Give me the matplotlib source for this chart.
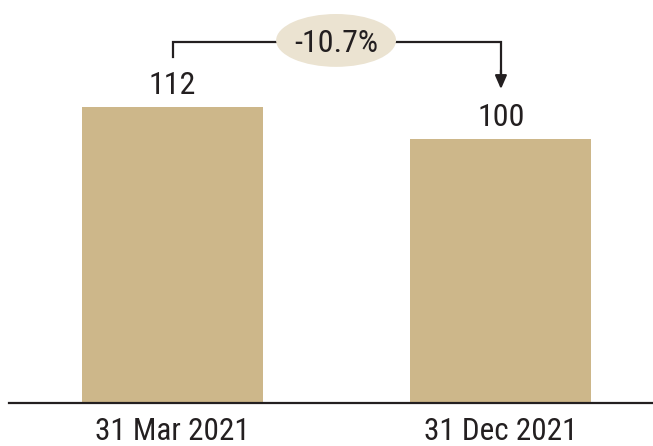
import matplotlib
matplotlib.use("Agg")
import matplotlib.pyplot as plt
import matplotlib.transforms as mtransforms
from matplotlib.patches import Ellipse

# data
categories = ["31 Mar 2021", "31 Dec 2021"]
values = [112, 100]
change_label = "-10.7%"

BAR_COLOR = "#cdb78a"
PILL_COLOR = "#ebe3d1"
TEXT_COLOR = "#231f20"

plt.rcParams["font.family"] = ["Roboto Condensed", "Barlow Condensed", "DejaVu Sans"]

fig = plt.figure(figsize=(6.53, 4.46), dpi=100)
ax = fig.add_axes([9 / 653, 43 / 446, 1 - 9 / 653, 403 / 446])

x = list(range(len(categories)))
ax.bar(x, values, width=0.551, color=BAR_COLOR, zorder=2)

ax.set_xlim(-0.498, 1.463)
ax.set_ylim(0, 152.5)

# value labels
for xi, v in zip(x, values):
    ax.text(xi, v + 5, str(v), ha="center", va="baseline",
            fontsize=23, color=TEXT_COLOR)

# bracket with arrow
y_top = 136.6
ax.plot([x[0], x[0], x[1], x[1]], [130.9, y_top, y_top, 124],
        color=TEXT_COLOR, lw=1.6, solid_joinstyle="miter", zorder=3)
ax.annotate("", xy=(x[1], 118.8), xytext=(x[1], 126),
            arrowprops=dict(arrowstyle="-|>,head_width=0.35,head_length=0.8",
                            color=TEXT_COLOR, lw=1.6, shrinkA=0, shrinkB=0),
            zorder=3)

cx = (x[0] + x[1]) / 2 - 0.002
ax.add_patch(Ellipse((cx, 137.2), width=120 / 328.5, height=20.0,
                     facecolor=PILL_COLOR, edgecolor="none", zorder=4))
ax.text(cx, 132.8, change_label, ha="center", va="baseline",
        fontsize=23, color=TEXT_COLOR, zorder=5)

# axis styling
for side in ["top", "right", "left"]:
    ax.spines[side].set_visible(False)
ax.spines["bottom"].set_color(TEXT_COLOR)
ax.spines["bottom"].set_linewidth(1.6)
ax.set_yticks([])
ax.set_xticks([])

# category labels under the baseline
trans = mtransforms.blended_transform_factory(ax.transData, fig.transFigure)
for xi, cat in zip(x, categories):
    ax.text(xi, 6.5 / 446, cat, transform=trans, ha="center", va="baseline",
            fontsize=22.5, color=TEXT_COLOR, clip_on=False)

fig.savefig("out.png", dpi=100)
